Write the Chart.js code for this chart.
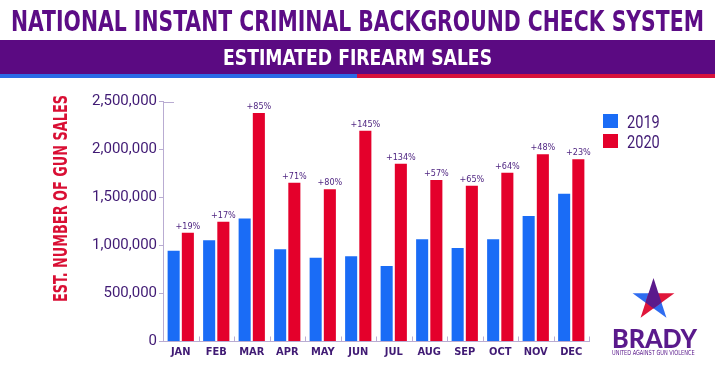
<!DOCTYPE html>
<html>
<head>
<meta charset="utf-8">
<script src="https://cdn.jsdelivr.net/npm/chart.js@4.4.1/dist/chart.umd.min.js"></script>
<style>
  html, body { margin: 0; padding: 0; }
  body { width: 715px; height: 375px; position: relative; overflow: hidden; background: #fff; }
  .fit { position: absolute; white-space: nowrap; line-height: 1; display: inline-block; }
  #chartBox { position: absolute; left: 0; top: 85px; width: 600px; height: 290px; }
</style>
</head>
<body>
<script>
// ---------- DATA ----------
const months = ['JAN','FEB','MAR','APR','MAY','JUN','JUL','AUG','SEP','OCT','NOV','DEC'];
const seriesNames = ['2019', '2020'];
const sales2019 = [945000, 1055000, 1280000, 960000, 873000, 887000, 786000, 1064000, 974000, 1064000, 1307000, 1540000];
const sales2020 = [1133000, 1248000, 2380000, 1654000, 1585000, 2196000, 1852000, 1682000, 1623000, 1758000, 1950000, 1898000];
const pctChange = ['+19%','+17%','+85%','+71%','+80%','+145%','+134%','+57%','+65%','+64%','+48%','+23%'];
const yTicks = [0, 500000, 1000000, 1500000, 2000000, 2500000];
const titleText = 'NATIONAL INSTANT CRIMINAL BACKGROUND CHECK SYSTEM';
const subtitleText = 'ESTIMATED FIREARM SALES';
const yAxisTitle = 'EST. NUMBER OF GUN SALES';
</script>

<div style="position:absolute;left:0;top:40px;width:715px;height:34px;background:#5b0a82"></div>
<div style="position:absolute;left:0;top:74px;width:357px;height:4px;background:#2b6be6"></div>
<div style="position:absolute;left:357px;top:74px;width:358px;height:4px;background:#d8123c"></div>

<div id="chartBox"><canvas id="c" width="600" height="290"></canvas></div>

<svg width="715" height="375" style="position:absolute;left:0;top:0;pointer-events:none">
  <polygon id="starBlue" fill="#2f6cf0"></polygon>
  <polygon id="starRed" fill="#e0163a"></polygon>
  <polygon id="starPurple" fill="#5b1a8c"></polygon>
</svg>

<script>
const FONT_N = '"Liberation Sans Narrow", "DejaVu Sans Condensed", "Roboto", sans-serif';
const FONT_R = 'Roboto, "Liberation Sans", sans-serif';
const PURPLE_TXT = '#401a74';

function addFit(text, opts) {
  const el = document.createElement('div');
  el.className = 'fit';
  el.textContent = text;
  el.style.fontFamily = opts.family || FONT_N;
  el.style.fontSize = opts.size + 'px';
  el.style.fontWeight = opts.weight || 'normal';
  el.style.color = opts.color;
  el.style.height = opts.size + 'px';
  document.body.appendChild(el);
  const w = el.offsetWidth;
  const s = opts.width / w;
  if (opts.rotate) {
    el.style.left = (opts.cx - w / 2) + 'px';
    el.style.top = (opts.cy - opts.size / 2) + 'px';
    el.style.transformOrigin = '50% 50%';
    el.style.transform = 'rotate(-90deg) scaleX(' + s + ')';
  } else {
    el.style.left = opts.x + 'px';
    el.style.top = (opts.cy - opts.size / 2) + 'px';
    el.style.transformOrigin = '0 50%';
    el.style.transform = 'scaleX(' + s + ')';
  }
  return el;
}

addFit(titleText, {x: 11, width: 693, cy: 22, size: 28, weight: 'bold', color: '#5c0c86'});
addFit(subtitleText, {x: 223, width: 269, cy: 57.5, size: 22, weight: 'bold', color: '#ffffff'});
addFit(yAxisTitle, {rotate: true, cx: 60, cy: 198.5, width: 207, size: 19, weight: 'bold', color: '#d90f34'});

// legend (built from dataset names)
const legendColors = ['#1a6cf6', '#e4002b'];
seriesNames.forEach((name, i) => {
  const sq = document.createElement('div');
  sq.style.cssText = 'position:absolute;left:603px;width:15px;height:14px;top:' + (114 + i * 20) + 'px;background:' + legendColors[i];
  document.body.appendChild(sq);
  addFit(name, {x: 627, width: 33, cy: 121 + i * 20, size: 19, family: FONT_R, color: PURPLE_TXT});
});

// Brady logo
(function () {
  const cx = 653.5, cy = 300, R = 22, r = R * 0.382;
  const P = a => [cx + R * Math.cos(a * Math.PI / 180), cy + R * Math.sin(a * Math.PI / 180)];
  const Q = a => [cx + r * Math.cos(a * Math.PI / 180), cy + r * Math.sin(a * Math.PI / 180)];
  const top = P(-90), rt = P(-18), br = P(54), bl = P(126), lt = P(198);
  const iUR = Q(-54), iR = Q(18), iB = Q(90), iL = Q(162), iUL = Q(234);
  const pts = a => a.map(p => p.join(',')).join(' ');
  document.getElementById('starBlue').setAttribute('points', pts([lt, iUR, br]));
  document.getElementById('starRed').setAttribute('points', pts([rt, iUL, bl]));
  document.getElementById('starPurple').setAttribute('points', pts([top, iUR, iR, iB, iL, iUL]));
})();
addFit('BRADY', {x: 612, width: 85, cy: 337.5, size: 26, weight: '900', family: 'Lato, "Open Sans", sans-serif', color: '#5a1a8c'});
addFit('UNITED AGAINST GUN VIOLENCE', {x: 612, width: 83, cy: 353, size: 7, color: '#5a1a8c'});

// ---------- CHART ----------
const AXIS_COLOR = '#b9acd2';

const extrasPlugin = {
  id: 'extras',
  afterDatasetsDraw(chart) {
    const ctx = chart.ctx;
    const xs = chart.scales.x, ys = chart.scales.y;
    const area = chart.chartArea;
    ctx.save();
    ctx.strokeStyle = AXIS_COLOR;
    ctx.lineWidth = 1;
    const half = (xs.getPixelForValue(1) - xs.getPixelForValue(0)) / 2;
    for (let i = 1; i <= months.length; i++) {
      const x = Math.round(xs.getPixelForValue(i - 1) + half) + 0.5;
      ctx.beginPath();
      ctx.moveTo(x, area.bottom);
      ctx.lineTo(x, area.bottom - 5);
      ctx.stroke();
    }
    const yt = Math.round(ys.getPixelForValue(yTicks[yTicks.length - 1])) + 0.5;
    ctx.beginPath();
    ctx.moveTo(area.left, yt);
    ctx.lineTo(area.left + 11, yt);
    ctx.stroke();
    const meta = chart.getDatasetMeta(1);
    ctx.fillStyle = '#4a1f7e';
    ctx.font = '9px ' + FONT_N;
    ctx.textAlign = 'center';
    ctx.textBaseline = 'alphabetic';
    meta.data.forEach((bar, i) => {
      ctx.fillText(pctChange[i], bar.x, bar.y - 4);
    });
    ctx.restore();
  }
};

new Chart(document.getElementById('c'), {
  type: 'bar',
  data: {
    labels: months,
    datasets: [
      { label: seriesNames[0], data: sales2019, backgroundColor: legendColors[0] },
      { label: seriesNames[1], data: sales2020, backgroundColor: legendColors[1] }
    ]
  },
  options: {
    responsive: false,
    animation: false,
    devicePixelRatio: 1,
    categoryPercentage: 0.8,
    barPercentage: 0.85,
    layout: { padding: { left: 0, right: 11, top: 16.5, bottom: 0 } },
    plugins: { legend: { display: false }, tooltip: { enabled: false } },
    scales: {
      x: {
        grid: { display: true, drawOnChartArea: false, drawTicks: false, color: 'rgba(0,0,0,0)' },
        border: { display: true, color: AXIS_COLOR, width: 1 },
        ticks: { color: PURPLE_TXT, padding: 4, font: { family: FONT_N, size: 11, weight: 'bold' } },
        afterFit(scale) { scale.height = 33.5; }
      },
      y: {
        min: yTicks[0],
        max: yTicks[yTicks.length - 1],
        afterBuildTicks(scale) { scale.ticks = yTicks.map(v => ({ value: v })); },
        grid: { display: true, drawOnChartArea: false, drawTicks: true, tickLength: 4, color: AXIS_COLOR },
        border: { display: true, color: AXIS_COLOR, width: 1 },
        ticks: {
          color: PURPLE_TXT, padding: 2,
          font: { family: FONT_R, size: 15 },
          callback: v => Number(v).toLocaleString('en-US')
        },
        afterFit(scale) { scale.width = 163; }
      }
    }
  },
  plugins: [extrasPlugin]
});
</script>
</body>
</html>
